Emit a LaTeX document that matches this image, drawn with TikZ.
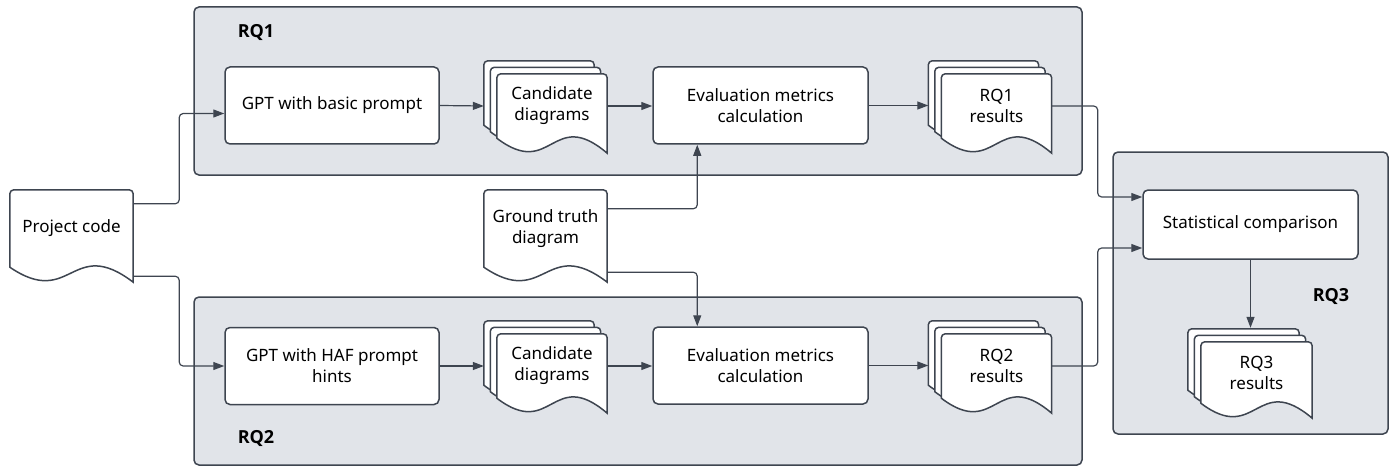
\documentclass[tikz,border=0pt]{standalone}
\usepackage{fontspec}
\setmainfont{Noto Sans}
\newfontfamily\lblfont{Open Sans}
\usetikzlibrary{arrows.meta,calc}
\pgfdeclarelayer{back}\pgfdeclarelayer{mid}
\pgfsetlayers{back,mid,main}
\definecolor{ln}{HTML}{3E4550}
\definecolor{grp}{HTML}{E1E4E9}
\tikzset{
  grpbox/.style={draw=ln,fill=grp,line width=1.5pt,rounded corners=5pt,inner sep=0pt},
  procbox/.style={draw=ln,fill=white,line width=1.5pt,rounded corners=5pt,inner sep=0pt,
    minimum width=214pt,minimum height=77pt,align=center,font=\txt},
  docn/.style={inner sep=0pt,align=center,font=\txt},
  docsh/.style={draw=ln,fill=white,line width=1.5pt},
  grplabel/.style={font=\lblfont\fontsize{18}{20}\selectfont\bfseries,inner sep=0pt},
  conn/.style={draw=ln,line width=1.2pt,rounded corners=4pt,-{Triangle[length=11pt,width=8pt]}},
}
\newcommand\txt{\fontsize{17}{21}\selectfont}
\newcommand\docshape[3]{%
  \begin{pgfonlayer}{mid}
  \path[docsh] let \p1=(#1.north west), \p2=(#1.south east) in
    ({\x1+#2},{\y2+#3}) [rounded corners=4pt] -- ({\x1+#2},{\y1+#3}) -- ({\x2+#2},{\y1+#3})
    [sharp corners] -- ({\x2+#2},{\y2+#3-15pt})
    .. controls ({(\x1+\x2)/2+#2},{\y2+#3+32pt}) and ({(\x1+\x2)/2+#2},{\y2+#3-42pt}) ..
    ({\x1+#2},{\y2+#3}) -- cycle;
  \end{pgfonlayer}}
\newcommand\docstack[1]{%
  \docshape{#1}{-13pt}{13pt}\docshape{#1}{-6.5pt}{6.5pt}\docshape{#1}{0pt}{0pt}}
\begin{document}
\begin{tikzpicture}[x=1pt,y=-1pt]
\useasboundingbox (0,0) rectangle (1397,468);
% groups
\begin{pgfonlayer}{back}
\node[grpbox,minimum width=888pt,minimum height=168pt] (g1) at (638,91) {};
\node[grpbox,minimum width=888pt,minimum height=168pt] (g2) at (638,381) {};
\node[grpbox,minimum width=275pt,minimum height=282pt] (g3) at (1250.5,293) {};
\end{pgfonlayer}
\node[grplabel] (l1) at (256,33) {RQ1};
\node[grplabel] (l2) at (256,438) {RQ2};
\node[grplabel] (l3) at (1331,297) {RQ3};
% documents
\node[docn,minimum width=123pt,minimum height=77pt] (pc) at (71.5,228.5) {Project code};
\docshape{pc}{0pt}{0pt}
\node[docn,minimum width=123pt,minimum height=77pt] (gt) at (545.5,228.5) {Ground truth\\diagram};
\docshape{gt}{0pt}{0pt}
\node[docn,minimum width=110pt,minimum height=64pt] (cand1) at (552,106) {Candidate\\diagrams};
\docstack{cand1}
\node[docn,minimum width=110pt,minimum height=64pt] (res1) at (996.5,106) {RQ1\\results};
\docstack{res1}
\node[docn,minimum width=110pt,minimum height=64pt] (cand2) at (552,366) {Candidate\\diagrams};
\docstack{cand2}
\node[docn,minimum width=110pt,minimum height=64pt] (res2) at (996.5,366) {RQ2\\results};
\docstack{res2}
\node[docn,minimum width=111pt,minimum height=61pt] (res3) at (1256.5,372.5) {RQ3\\results};
\docstack{res3}
% process boxes
\node[procbox] (gpt1) at (332,105.5) {GPT with basic prompt};
\node[procbox] (gpt2) at (332,366) {GPT with HAF prompt\\hints};
\node[procbox,minimum width=215pt] (ev1) at (760.5,105.5) {Evaluation metrics\\calculation};
\node[procbox,minimum width=215pt] (ev2) at (760.5,365.5) {Evaluation metrics\\calculation};
\node[procbox,minimum width=215pt,minimum height=69pt] (stat) at (1250.5,224.5) {Statistical comparison};
% connectors
\draw[conn] ($(pc.north east)+(0,14)$) -- ++(46,0) |- ($(gpt1.west)+(0,8)$);
\draw[conn] ($(pc.south east)+(0,9)$) -- ++(46,0) |- (gpt2.west);
\draw[conn] (gpt1.east) -- ($(cand1.west)+(-13,0)$);
\draw[conn] (gpt2.east) -- ($(cand2.west)+(-13,0)$);
\draw[conn] (cand1.east) -- (cand1.east -| ev1.west);
\draw[conn] (cand2.east) -- (cand2.east -| ev2.west);
\draw[conn] (ev1.east) -- ($(ev1.east -| res1.west)+(-13,0)$);
\draw[conn] (ev2.east) -- ($(ev2.east -| res2.west)+(-13,0)$);
\draw[conn] (res1.east) -- ++(46,0) |- ($(stat.west)+(0,-27.5)$);
\draw[conn] (res2.east) -- ++(46,0) |- ($(stat.west)+(0,23.5)$);
\draw[conn] (stat.south) -- ($(stat.south |- res3.north)+(0,-14)$);
\draw[conn] ($(gt.north east)+(0,19)$) -| ($(ev1.south west)+(45,0)$);
\draw[conn] ($(gt.south east)+(0,5)$) -| ($(ev2.north west)+(45,0)$);
\end{tikzpicture}
\end{document}
